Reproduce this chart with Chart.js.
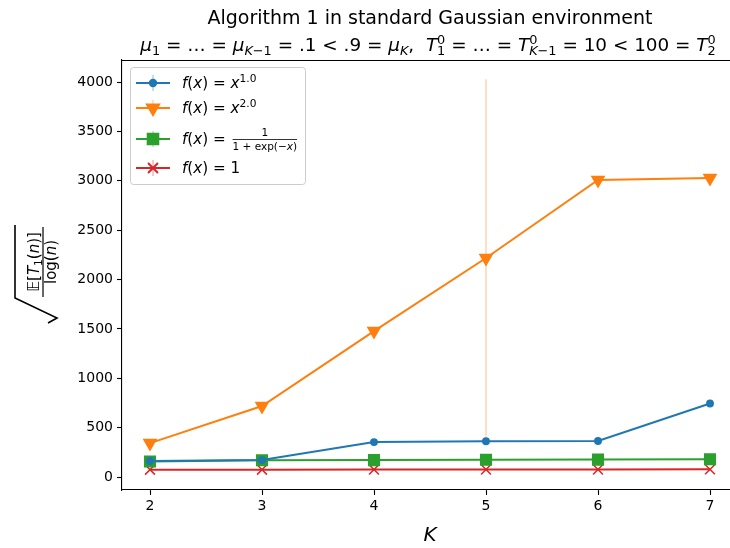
<!DOCTYPE html>
<html><head><meta charset="utf-8">
<script src="https://cdn.jsdelivr.net/npm/chart.js@4"></script>
<style>html,body{margin:0;padding:0;overflow:hidden;background:#fff}canvas{display:block}</style>
</head><body>
<canvas id="c" width="750" height="548" style="width:750px;height:548px"></canvas>
<script>
// ---- data ----
const ks = [2, 3, 4, 5, 6, 7];
const yTickValues = [0, 500, 1000, 1500, 2000, 2500, 3000, 3500, 4000];
const blueVals   = [162, 172, 354, 362, 365, 745];
const orangeVals = [344, 719, 1478, 2218, 3008, 3028];
const greenVals  = [158, 170, 172, 175, 177, 180];
const redVals    = [75, 75, 76, 77, 77, 78];
const blueErr    = [0, 0, 0, 0, 0, 0];
const orangeErr  = [0, 0, 0, 1810, 0, 0];
const greenErr   = [20, 0, 0, 0, 0, 0];
const redErr     = [0, 0, 0, 0, 0, 0];
const titleLine1 = 'Algorithm 1 in standard Gaussian environment';

const FONT = '"DejaVu Sans"';
const C = { blue: '#1f77b4', orange: '#ff7f0e', green: '#2ca02c', red: '#d62728' };

// rich text helpers
const R = t => ({ t, it: false, s: 1, dy: 0 });
const I = t => ({ t, it: true, s: 1, dy: 0 });
const SB = (t, it, back) => ({ t, it: !!it, s: 0.7, dy: 0.22, back: !!back });
const SP = (t, it) => ({ t, it: !!it, s: 0.7, dy: -0.38 });

function rich(ctx, segs, x, y, size, align, draw) {
  if (align === 'center') {
    const w = rich(ctx, segs, 0, 0, size, 'left', false);
    x = x - w / 2;
  }
  ctx.textAlign = 'left';
  let cx = x, lastStart = x, lastEnd = x;
  for (const s of segs) {
    const fs = size * s.s;
    ctx.font = (s.it ? 'italic ' : '') + fs + 'px ' + FONT;
    const w = ctx.measureText(s.t).width;
    let start = s.back ? lastStart : cx;
    if (draw) ctx.fillText(s.t, start, y + s.dy * size);
    if (s.back) { cx = Math.max(lastEnd, start + w); }
    else { lastStart = start; lastEnd = start + w; cx = start + w; }
  }
  return cx - x;
}

const titleLine2 = [
  I('μ'), SB('1'), R(' = … = '), I('μ'), SB('K', true), SB('−1'), R(' = .1 < .9 = '), I('μ'), SB('K', true),
  R(',  '), I('T'), SP('0'), SB('1', false, true), R(' = … = '), I('T'), SP('0'), SB('K', true, true), SB('−1'),
  R(' = 10 < 100 = '), I('T'), SP('0'), SB('2', false, true)
];

const series = [
  { vals: blueVals, err: blueErr, color: C.blue, style: 'circle', r: 3.2, rot: 0,
    label: [I('f'), R('('), I('x'), R(') = '), I('x'), SP('1.0')] },
  { vals: orangeVals, err: orangeErr, color: C.orange, style: 'triangle', r: 7, rot: 180,
    label: [I('f'), R('('), I('x'), R(') = '), I('x'), SP('2.0')] },
  { vals: greenVals, err: greenErr, color: C.green, style: 'rect', r: 7.5, rot: 0,
    label: [I('f'), R('('), I('x'), R(') = ')], frac: true },
  { vals: redVals, err: redErr, color: C.red, style: 'crossRot', r: 7, rot: 0,
    label: [I('f'), R('('), I('x'), R(') = 1')] }
];

const errPlugin = {
  id: 'err',
  beforeDatasetsDraw(chart) {
    const ctx = chart.ctx, xs = chart.scales.x, ys = chart.scales.y;
    ctx.save();
    ctx.globalAlpha = 0.25;
    ctx.lineWidth = 2;
    series.forEach(s => {
      ctx.strokeStyle = s.color;
      s.err.forEach((e, i) => {
        if (!e) return;
        const px = xs.getPixelForValue(ks[i]);
        ctx.beginPath();
        ctx.moveTo(px, ys.getPixelForValue(s.vals[i] - e));
        ctx.lineTo(px, ys.getPixelForValue(s.vals[i] + e));
        ctx.stroke();
      });
    });
    ctx.restore();
  }
};

const decoPlugin = {
  id: 'deco',
  afterDraw(chart) {
    const ctx = chart.ctx, a = chart.chartArea;
    ctx.save();
    // top spine
    ctx.strokeStyle = '#000'; ctx.lineWidth = 1.1;
    ctx.beginPath(); ctx.moveTo(a.left, a.top + 0.5); ctx.lineTo(a.right, a.top + 0.5); ctx.stroke();
    // title
    ctx.fillStyle = '#000'; ctx.textBaseline = 'alphabetic';
    ctx.font = '19px ' + FONT; ctx.textAlign = 'center';
    const midX = (a.left + a.right) / 2;
    ctx.fillText(titleLine1, midX, 24);
    rich(ctx, titleLine2, midX - 2, 51, 18.4, 'center', true);
    // x label
    ctx.font = 'italic 20px ' + FONT; ctx.textAlign = 'center';
    ctx.fillText('K', midX, 541);
    // y label
    ctx.save();
    ctx.translate(43, 262);
    ctx.rotate(-Math.PI / 2);
    const num = [R('𝔼'), R('['), I('T'), SB('1'), R('('), I('n'), R(')]')];
    const den = [R('log('), I('n'), R(')')];
    rich(ctx, num, 0, -4, 15, 'center', true);
    rich(ctx, den, 0, 13, 15, 'center', true);
    ctx.lineWidth = 1.2; ctx.strokeStyle = '#000';
    ctx.beginPath(); ctx.moveTo(-35, 0); ctx.lineTo(35, 0); ctx.stroke();
    ctx.lineWidth = 1.6;
    ctx.beginPath();
    ctx.moveTo(37, -28); ctx.lineTo(-36, -28); ctx.lineTo(-56, 14); ctx.lineTo(-61, 5);
    ctx.stroke();
    ctx.restore();
    // legend
    const lx = 130, ly = 67, lw = 175, lh = 117;
    ctx.fillStyle = 'rgba(255,255,255,0.8)'; ctx.strokeStyle = '#cccccc'; ctx.lineWidth = 1;
    ctx.beginPath(); ctx.roundRect(lx + 0.5, ly + 0.5, lw, lh, 3); ctx.fill(); ctx.stroke();
    const rows = [83, 108, 139, 168];
    series.forEach((s, i) => {
      const y = rows[i];
      ctx.save(); ctx.globalAlpha = 0.25; ctx.strokeStyle = s.color; ctx.lineWidth = 2;
      ctx.beginPath(); ctx.moveTo(153, y - 8); ctx.lineTo(153, y + 8); ctx.stroke(); ctx.restore();
      ctx.strokeStyle = s.color; ctx.lineWidth = 2;
      ctx.beginPath(); ctx.moveTo(136, y); ctx.lineTo(170, y); ctx.stroke();
      ctx.fillStyle = s.color;
      Chart.helpers.drawPoint(ctx, { pointStyle: s.style, radius: s.r, rotation: s.rot, borderWidth: 1.5 }, 153, y);
      ctx.fillStyle = '#000';
      const w = rich(ctx, s.label, 182, y + 5, 15.2, 'left', true);
      if (s.frac) {
        const fx = 182 + w + 2;
        const dtxt = [R('1 + exp(−'), I('x'), R(')')];
        const dw = rich(ctx, dtxt, 0, 0, 10.5, 'left', false);
        ctx.font = '10.5px ' + FONT;
        ctx.textAlign = 'center';
        ctx.fillText('1', fx + dw / 2, y - 3);
        rich(ctx, dtxt, fx, y + 11, 10.5, 'left', true);
        ctx.strokeStyle = '#000'; ctx.lineWidth = 0.8;
        ctx.beginPath(); ctx.moveTo(fx, y + 0.5); ctx.lineTo(fx + dw, y + 0.5); ctx.stroke();
      }
    });
    ctx.restore();
  }
};

const datasets = series.map(s => ({
  data: s.vals.map((v, i) => ({ x: ks[i], y: v })),
  borderColor: s.color, backgroundColor: s.color,
  pointBackgroundColor: s.color, pointBorderColor: s.color,
  pointStyle: s.style, pointRadius: s.r, pointRotation: s.rot, pointBorderWidth: 1.5,
  borderWidth: 2, tension: 0, fill: false
}));

new Chart(document.getElementById('c'), {
  type: 'line',
  data: { datasets },
  options: {
    responsive: false, animation: false, devicePixelRatio: 1,
    layout: { padding: { top: 60, right: 12, left: 0, bottom: 0 } },
    plugins: { legend: { display: false }, title: { display: false }, tooltip: { enabled: false } },
    scales: {
      x: {
        type: 'linear', min: 1.75, max: 7.25,
        afterBuildTicks: s => { s.ticks = ks.map(v => ({ value: v })); },
        afterFit: s => { s.height = 58; },
        grid: { display: true, drawOnChartArea: false, drawTicks: true, tickLength: 5, color: '#000', tickWidth: 1.1 },
        border: { display: true, color: '#000', width: 1.1 },
        ticks: { font: { family: 'DejaVu Sans', size: 14 }, color: '#000', padding: 3, maxRotation: 0,
                 callback: v => String(v) }
      },
      y: {
        type: 'linear', min: -131, max: 4223,
        afterBuildTicks: s => { s.ticks = yTickValues.map(v => ({ value: v })); },
        afterFit: s => { s.width = 122; },
        grid: { display: true, drawOnChartArea: false, drawTicks: true, tickLength: 5, color: '#000', tickWidth: 1.1 },
        border: { display: true, color: '#000', width: 1.1 },
        ticks: { font: { family: 'DejaVu Sans', size: 14 }, color: '#000', padding: 4,
                 callback: v => String(v) }
      }
    }
  },
  plugins: [errPlugin, decoPlugin]
});
</script>
</body></html>
